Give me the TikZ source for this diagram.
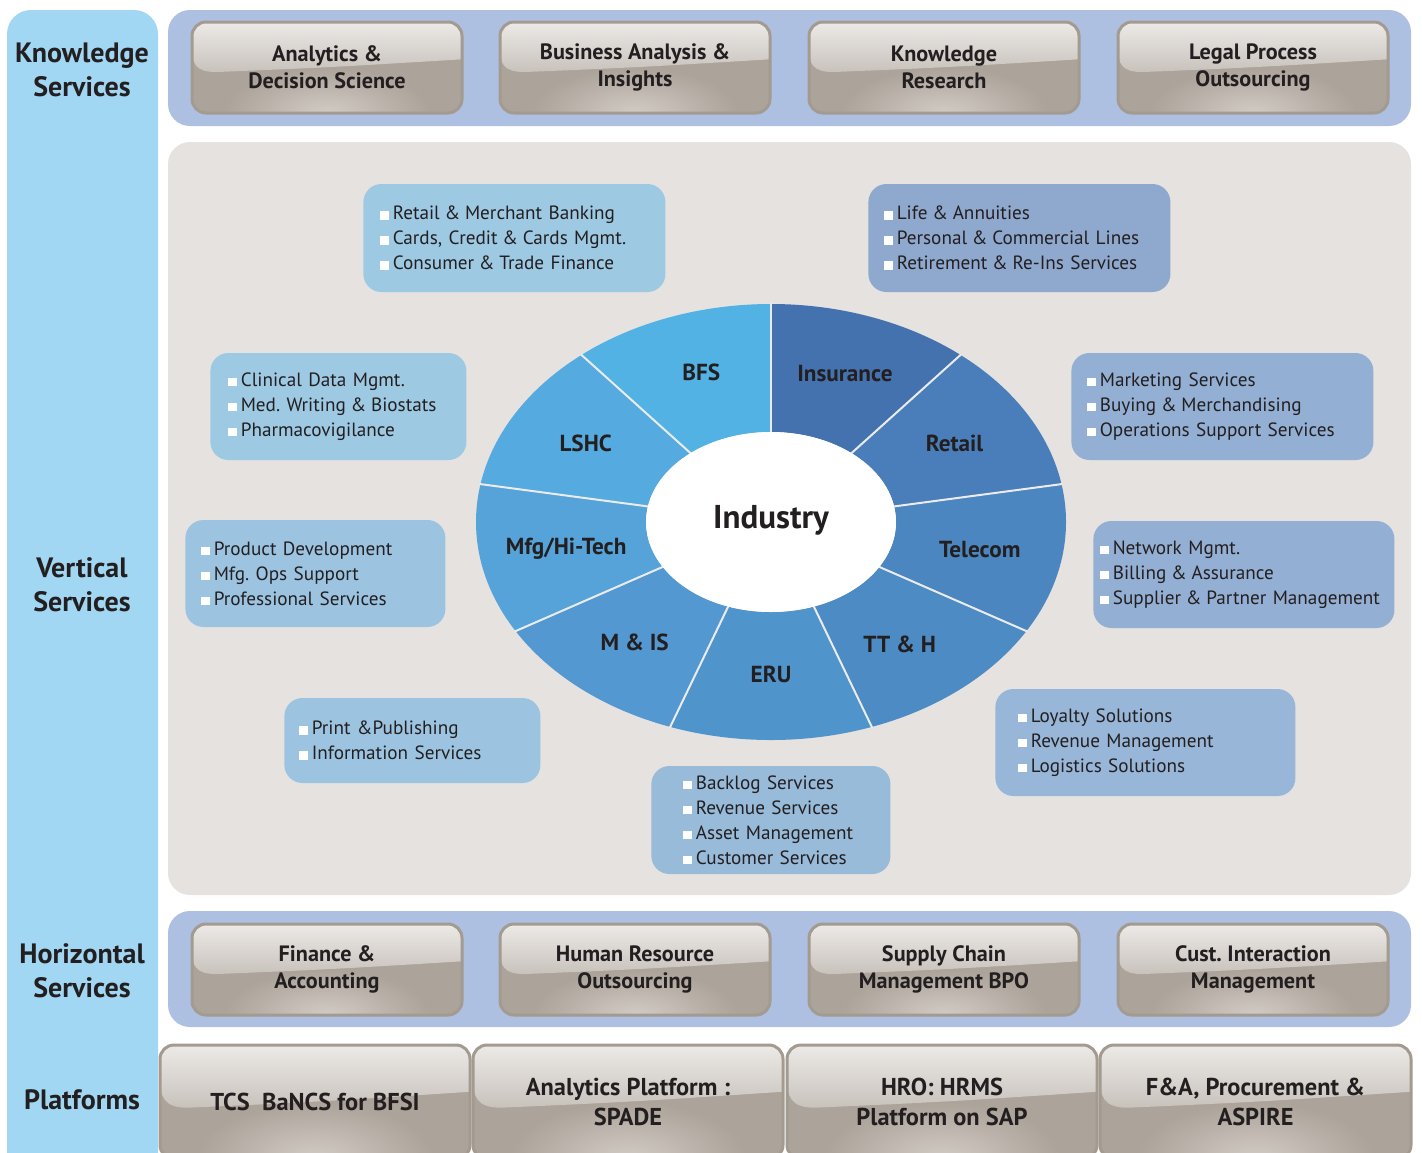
\documentclass[tikz,border=0pt]{standalone}
\usepackage{fontspec}
\setmainfont{PT Sans}
\usetikzlibrary{shadings}

\definecolor{ink}{HTML}{231F20}
\definecolor{sideCol}{HTML}{A1D7F3}
\definecolor{bandCol}{HTML}{AEC0E2}
\definecolor{vertCol}{HTML}{E5E2DF}
\definecolor{boxedge}{HTML}{A39A90}
\definecolor{boxdark}{HTML}{ACA39A}
\definecolor{boxlight}{HTML}{D2CBC5}
\definecolor{glosstop}{HTML}{ECEAE7}
\definecolor{glossbot}{HTML}{C8C2BC}
% wheel colours
\definecolor{bfsCol}{HTML}{52B2E4}
\definecolor{insCol}{HTML}{4472AF}
\definecolor{retCol}{HTML}{4A7EBB}
\definecolor{telCol}{HTML}{4B86C1}
\definecolor{tthCol}{HTML}{4D8BC5}
\definecolor{eruCol}{HTML}{5094CC}
\definecolor{misCol}{HTML}{5398D0}
\definecolor{mfgCol}{HTML}{55A3D9}
\definecolor{lshCol}{HTML}{55ABDF}
% list boxes
\definecolor{listA}{HTML}{9DC9E3}
\definecolor{listB}{HTML}{8EA8CE}
\definecolor{listC}{HTML}{93AFD3}
\definecolor{listD}{HTML}{9CC4E1}
\definecolor{listE}{HTML}{98B6D8}
\definecolor{listF}{HTML}{98BBDA}

\frenchspacing
\newcommand{\bul}{\textcolor{white}{\rule{4.2pt}{4.2pt}}\hspace{2pt}}
\newcommand{\amp}{\kern-0.8pt\&\kern-0.8pt}
\newcommand{\tightspace}{\spaceskip=0.21em plus 0.05em\relax}

% glossy box: [options], name, cx, cy, w, h, text
\newcommand{\glossy}[7][]{%
  \begin{scope}
    \clip[rounded corners=7pt] ({#3-#5/2},{#4-#6/2}) rectangle ({#3+#5/2},{#4+#6/2});
    \fill[boxdark] ({#3-#5/2},{#4-#6/2}) rectangle ({#3+#5/2},{#4+#6/2});
    \shade[inner color=boxlight, outer color=boxdark] (#3,{#4+#6/2}) ellipse[x radius={#5*0.38}, y radius={#6*0.5}];
    \shade[top color=glosstop, bottom color=glossbot]
      ({#3-#5/2},{#4-#6/2}) -- ({#3+#5/2},{#4-#6/2}) -- ({#3+#5/2},{#4-#6/2+0.41*#6})
      .. controls (#3,{#4-#6/2+0.50*#6}) .. ({#3-#5/2+0.09*#5},{#4-#6/2+0.55*#6})
      .. controls ({#3-#5/2+0.01*#5},{#4-#6/2+0.55*#6}) and ({#3-#5/2},{#4-#6/2+0.45*#6}) .. ({#3-#5/2},{#4-#6/2+0.28*#6}) -- cycle;
  \end{scope}
  \node[glossbox, minimum width={#5*0.5pt}, minimum height={#6*0.5pt}, #1] (#2) at (#3,#4) {#7};
}

\begin{document}
\begin{tikzpicture}[x=0.5pt, y=-0.5pt,
    heading/.style={font=\bfseries\fontsize{14}{17}\selectfont, text=ink, align=center},
    glossbox/.style={draw=boxedge, line width=1.5pt, rounded corners=7pt, align=center,
      text=ink, font=\bfseries\fontsize{11.1}{13.5}\selectfont},
    platform/.style={font=\bfseries\fontsize{12.2}{15}\selectfont},
    band/.style={rounded corners=11pt},
    listbox/.style={anchor=west, rounded corners=9pt, align=left, text=ink,
      font=\fontsize{9.6}{12.5}\selectfont\tightspace},
    sector/.style={font=\bfseries\fontsize{11.6}{13}\selectfont, text=ink},
    sepline/.style={draw=white!92!black, line width=1pt}]
\useasboundingbox (0,0) rectangle (1422,1152);

% side column
\fill[sideCol, rounded corners=12pt] (7,10) rectangle (158,1180);
\node[heading] (hKnow) at (82,70) {Knowledge\\Services};
\node[heading] (hVert) at (82,585) {Vertical\\Services};
\node[heading] (hHorz) at (82,971) {Horizontal\\Services};
\node[heading] (hPlat) at (82,1100) {Platforms};

% bands
\fill[bandCol, band] (168,10) rectangle (1411,126);
\fill[vertCol, band] (168,142) rectangle (1411,895);
\fill[bandCol, band] (168,911) rectangle (1411,1027);

% knowledge services
\glossy{ksAnalytics}{327}{67.5}{270}{91}{Analytics \&\\Decision Science}
\glossy{ksBusiness}{635}{67.5}{270}{91}{Business Analysis \&\\Insights}
\glossy{ksResearch}{944}{67.5}{270}{91}{Knowledge\\Research}
\glossy{ksLegal}{1253}{67.5}{270}{91}{Legal Process\\Outsourcing}

% horizontal services
\glossy{hsFinance}{327}{969.5}{270}{91}{Finance \&\\Accounting}
\glossy{hsHuman}{635}{969.5}{270}{91}{Human Resource\\Outsourcing}
\glossy{hsSupply}{944}{969.5}{270}{91}{Supply Chain\\Management BPO}
\glossy{hsCust}{1253}{969.5}{270}{91}{Cust. Interaction\\Management}

% platforms
\glossy[platform]{plBancs}{315}{1102}{310}{114}{TCS\ \ BaNCS for BFSI}
\glossy[platform]{plSpade}{628}{1102}{310}{114}{Analytics Platform :\\SPADE}
\glossy[platform]{plHrms}{942}{1102}{310}{114}{HRO: HRMS\\Platform on SAP}
\glossy[platform]{plAspire}{1255.5}{1102}{311}{114}{F\&A, Procurement \&\\ASPIRE}

% industry wheel
\begin{scope}[shift={(771,522)}, y=0.5pt]
  \foreach \a/\b/\col in {90/130/bfsCol, 50/90/insCol, 10/50/retCol, -30/10/telCol,
      -70/-30/tthCol, -110/-70/eruCol, -150/-110/misCol, -190/-150/mfgCol, 130/170/lshCol}
    \fill[\col] (\a:295 and 218) arc[start angle=\a, end angle=\b, x radius=295, y radius=218]
      -- (\b:125 and 90) arc[start angle=\b, end angle=\a, x radius=125, y radius=90] -- cycle;
  \foreach \a in {90,50,10,-30,-70,-110,-150,170,130}
    \draw[sepline] (\a:124 and 89) -- (\a:296 and 219);
  \fill[white] (0,0) ellipse[x radius=125, y radius=90];
  \node[font=\bfseries\fontsize{16.5}{18}\selectfont, text=ink] (industry) at (0,2) {Industry};
  \node[sector] (secBFS) at (109:214 and 158) {BFS};
  \node[sector] (secIns) at (70:216 and 158) {Insurance};
  \node[sector] (secRet) at (30:212 and 157) {Retail};
  \node[sector] (secTel) at (-10:212 and 157) {Telecom};
  \node[sector] (secTTH) at (-52:209 and 155) {TT \& H};
  \node[sector] (secERU) at (-90:212 and 152) {ERU};
  \node[sector] (secMIS) at (-130:212 and 157) {M \& IS};
  \node[sector] (secMfg) at (-170:208 and 155) {Mfg/Hi-Tech};
  \node[sector] (secLSHC) at (150:214 and 158) {LSHC};
\end{scope}

% vertical service lists
\node[listbox, fill=listA, inner xsep=8.5pt, text width=134pt, minimum height=54pt] (lstBFS) at (363,238)
  {\bul Retail \amp\ Merchant Banking\\\bul Cards, Credit \amp\ Cards Mgmt.\\\bul Consumer \amp\ Trade Finance};
\node[listbox, fill=listB, inner xsep=8pt, text width=135pt, minimum height=54pt] (lstIns) at (868,238)
  {\bul Life \amp\ Annuities\\\bul Personal \amp\ Commercial Lines\\\bul Retirement \amp\ Re-Ins Services};
\node[listbox, fill=listA, inner xsep=9pt, text width=110pt, minimum height=53.5pt] (lstLSHC) at (210,406.5)
  {\bul Clinical Data Mgmt.\\\bul Med. Writing \amp\ Biostats\\\bul Pharmacovigilance};
\node[listbox, fill=listC, inner xsep=8pt, text width=135pt, minimum height=53.5pt] (lstRet) at (1071,406.5)
  {\bul Marketing Services\\\bul Buying \amp\ Merchandising\\\bul Operations Support Services};
\node[listbox, fill=listD, inner xsep=8pt, text width=114pt, minimum height=53.5pt] (lstMfg) at (185,573.5)
  {\bul Product Development\\\bul Mfg. Ops Support\\\bul Professional Services};
\node[listbox, fill=listC, inner xsep=3.5pt, text width=143.5pt, minimum height=53.5pt] (lstTel) at (1093,574.5)
  {\bul Network Mgmt.\\\bul Billing \amp\ Assurance\\\bul Supplier \amp\ Partner Management};
\node[listbox, fill=listD, inner xsep=7.5pt, text width=113pt, minimum height=42.5pt] (lstMIS) at (284,740.5)
  {\bul Print \&Publishing\\\bul Information Services};
\node[listbox, fill=listE, inner xsep=11.5pt, text width=127pt, minimum height=53.5pt] (lstTTH) at (995,742.5)
  {\bul Loyalty Solutions\\\bul Revenue Management\\\bul Logistics Solutions};
\node[listbox, fill=listF, inner xsep=16pt, text width=87.5pt, minimum height=54pt] (lstERU) at (651,820)
  {\bul Backlog Services\\\bul Revenue Services\\\bul Asset Management\\\bul Customer Services};
\end{tikzpicture}
\end{document}
